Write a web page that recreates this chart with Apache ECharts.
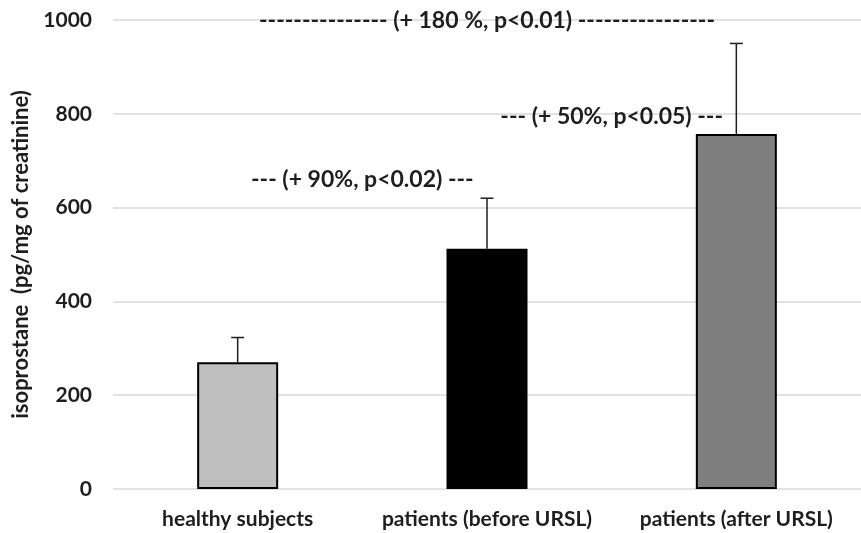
<!DOCTYPE html>
<html>
<head>
<meta charset="utf-8">
<script src="https://cdn.jsdelivr.net/npm/echarts@6/dist/echarts.min.js"></script>
<style>
  html, body { margin: 0; padding: 0; background: #fff; }
  #chart { width: 861px; height: 533px; }
</style>
</head>
<body>
<div id="chart"></div>
<script>
// Urinary isoprostane by group: mean with upper SD whisker
const categories = ['healthy subjects', 'patients (before URSL)', 'patients (after URSL)'];
const means = [270, 512, 757];
const errorTops = [323, 620, 950];
const barColors = ['#bfbfbf', '#000000', '#7f7f7f'];
const yTicks = { min: 0, max: 1000, interval: 200 };

// Comparison notes: [from category, to category, y value, text]
const notes = [
  [0, 2, 998, '--------------- (+ 180 %, p<0.01) ----------------'],
  [0, 1, 660, '--- (+ 90%, p<0.02) ---'],
  [1, 2, 794, '--- (+ 50%, p<0.05) ---']
];

const FONT = 'Lato';
const chart = echarts.init(document.getElementById('chart'));

chart.setOption({
  animation: false,
  textStyle: { fontFamily: FONT },
  grid: { left: 113, top: 20, width: 760, height: 469, containLabel: false },
  xAxis: {
    type: 'category',
    data: categories,
    axisLine: { show: false },
    axisTick: { show: false },
    axisLabel: {
      color: '#1e1e1e', fontFamily: FONT, fontWeight: 'bold', fontSize: 21, margin: 20,
      interval: 0, hideOverlap: false
    }
  },
  yAxis: {
    type: 'value',
    min: yTicks.min,
    max: yTicks.max,
    interval: yTicks.interval,
    name: 'isoprostane  (pg/mg of creatinine)',
    nameLocation: 'middle',
    nameGap: 76,
    nameTextStyle: { color: '#1e1e1e', fontFamily: FONT, fontWeight: 'bold', fontSize: 22 },
    axisLine: { show: false },
    axisTick: { show: false },
    axisLabel: {
      color: '#1e1e1e', fontFamily: FONT, fontWeight: 'bold', fontSize: 21, margin: 21,
      formatter: v => String(v)
    },
    splitLine: { lineStyle: { color: '#d9d9d9', width: 1.5 } }
  },
  series: [
    {
      type: 'bar',
      barWidth: 81,
      data: means.map((v, i) => ({
        value: v,
        itemStyle: { color: barColors[i], borderColor: '#000', borderWidth: 2 }
      })),
      z: 2
    },
    {
      // upper whiskers
      type: 'custom',
      data: means.map((v, i) => [i, v, errorTops[i]]),
      renderItem: function (params, api) {
        const base = api.coord([api.value(0), api.value(1)]);
        const top = api.coord([api.value(0), api.value(2)]);
        const cap = 6.5;
        const style = { stroke: '#1e1e1e', lineWidth: 1.5 };
        return {
          type: 'group',
          children: [
            { type: 'line', shape: { x1: base[0], y1: base[1], x2: top[0], y2: top[1] }, style: style },
            { type: 'line', shape: { x1: top[0] - cap, y1: top[1], x2: top[0] + cap, y2: top[1] }, style: style }
          ]
        };
      },
      z: 3
    },
    {
      // comparison notes, centred between the two compared groups
      type: 'custom',
      data: notes,
      renderItem: function (params, api) {
        const n = notes[params.dataIndex];
        const a = api.coord([n[0], n[2]]);
        const b = api.coord([n[1], n[2]]);
        return {
          type: 'text',
          style: {
            x: (a[0] + b[0]) / 2,
            y: a[1],
            text: n[3],
            fill: '#1e1e1e',
            font: 'bold 23px ' + FONT,
            align: 'center',
            verticalAlign: 'middle'
          }
        };
      },
      z: 4
    }
  ]
});
</script>
</body>
</html>
